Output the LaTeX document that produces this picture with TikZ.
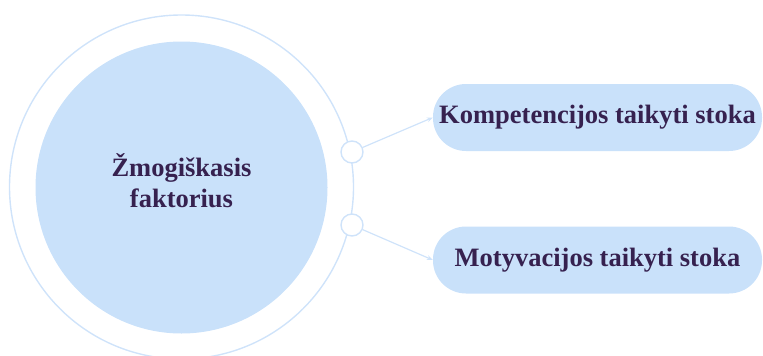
\documentclass[tikz,border=0pt]{standalone}
\usepackage{fontspec}
\setmainfont{Liberation Serif}
\usetikzlibrary{arrows.meta}
\definecolor{fillblue}{HTML}{C9E1FA}
\definecolor{lineblue}{HTML}{CFE3FA}
\definecolor{textpurple}{HTML}{36214F}
\tikzset{
  ring/.style={draw=lineblue, line width=1.4pt},
  hub/.style={circle, fill=fillblue, draw=none},
  joint/.style={circle, draw=lineblue, line width=1.4pt, fill=white, minimum size=22pt, inner sep=0pt},
  labelfont/.style={text=textpurple, font=\bfseries\fontsize{26.5}{31}\selectfont},
  pill/.style={rectangle, fill=fillblue, draw=none, minimum width=329pt, minimum height=67pt,
    rounded corners=33pt, labelfont},
  link/.style={draw=lineblue, line width=1.2pt, -{Stealth[length=6pt,width=5pt]}},
}
\begin{document}
\begin{tikzpicture}[x=1pt,y=-1pt]
\useasboundingbox (0,0) rectangle (763,356);
\clip (0,0) rectangle (763,356);
% outer ring and central disc
\node[circle, ring, minimum size=344pt, inner sep=0pt] (outer) at (181.5,187) {};
\node[hub, minimum size=292pt, inner sep=0pt] (core) at (181.5,187.5) {};
\node[labelfont, align=center] (coretext) at (181.5,181) {Žmogiškasis\\faktorius};
% joints on the ring
\node[joint] (j1) at (352,152) {};
\node[joint] (j2) at (352,225) {};
% target boxes
\node[pill] (b1) at (597.5,117.5) {Kompetencijos taikyti stoka};
\node[pill] (b2) at (597.5,260) {Motyvacijos taikyti stoka};
% connectors
\draw[link] (j1) -- (b1.west);
\draw[link] (j2) -- (b2.west);
\end{tikzpicture}
\end{document}
